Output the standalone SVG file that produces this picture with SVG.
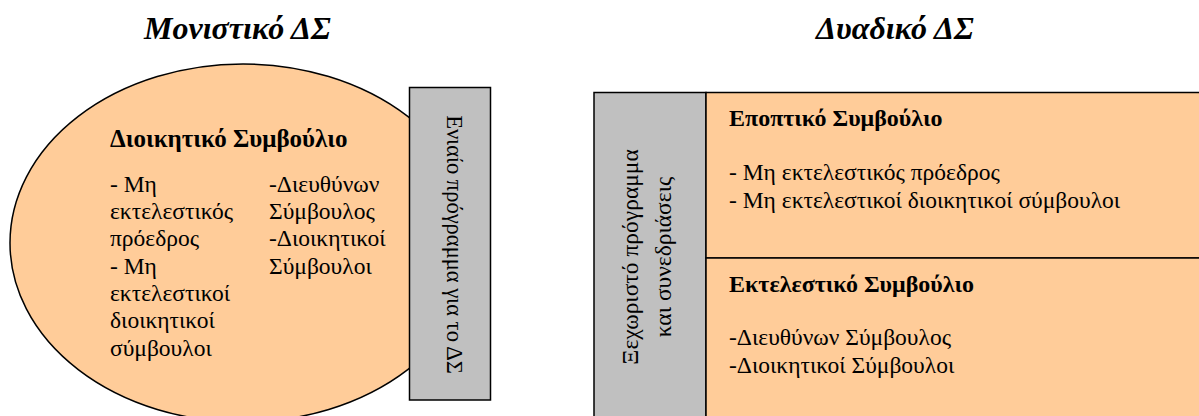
<svg xmlns="http://www.w3.org/2000/svg" width="1199" height="416" viewBox="0 0 1199 416">
<style>
.box{stroke:#000;stroke-width:1.5}
.org{fill:#FFCC99}
.gry{fill:#C0C0C0}
text{font-family:"Liberation Serif","DejaVu Serif",serif;fill:#000}
.title{font-size:32px;font-weight:bold;font-style:italic}
.hd{font-size:24px;font-weight:bold}
.hdl{font-size:25px;font-weight:bold}
.bd{font-size:23.5px}
.vl{font-size:22.5px}
.vr{font-size:23.5px}
</style>
<rect width="1199" height="416" fill="#fff"/>
<g id="titles">
<text class="title" x="144" y="39">Μονιστικό ΔΣ</text>
<text class="title" x="816" y="39">Δυαδικό ΔΣ</text>
</g>
<g id="board-unitary">
<ellipse class="box org" cx="243" cy="243" rx="233" ry="179"/>
<text class="hdl" x="110" y="147">Διοικητικό Συμβούλιο</text>
<text class="bd" x="110" y="192">- Μη</text>
<text class="bd" x="110" y="219">εκτελεστικός</text>
<text class="bd" x="110" y="246">πρόεδρος</text>
<text class="bd" x="110" y="274">- Μη</text>
<text class="bd" x="110" y="301">εκτελεστικοί</text>
<text class="bd" x="110" y="328">διοικητικοί</text>
<text class="bd" x="110" y="356">σύμβουλοι</text>
<text class="bd" x="269" y="192">-Διευθύνων</text>
<text class="bd" x="269" y="219">Σύμβουλος</text>
<text class="bd" x="269" y="246">-Διοικητικοί</text>
<text class="bd" x="269" y="274">Σύμβουλοι</text>
</g>
<g id="program-unitary">
<rect class="box gry" x="409.5" y="87.5" width="81" height="312.5"/>
<text class="vl" text-anchor="middle" transform="translate(447,244.5) rotate(90)">Ενιαίο πρόγραμμα για το ΔΣ</text>
</g>
<g id="program-dual">
<rect class="box gry" x="594" y="92.5" width="112" height="330"/>
<text class="vr" text-anchor="middle" transform="translate(638,257) rotate(-90)">Ξεχωριστό πρόγραμμα</text>
<text class="vr" text-anchor="middle" transform="translate(671,257) rotate(-90)">και συνεδριάσεις</text>
</g>
<g id="supervisory-board">
<rect class="box org" x="706" y="92.5" width="500" height="165.5"/>
<text class="hd" x="729" y="126">Εποπτικό Συμβούλιο</text>
<text class="bd" x="729" y="180">- Μη εκτελεστικός πρόεδρος</text>
<text class="bd" x="729" y="208">- Μη εκτελεστικοί διοικητικοί σύμβουλοι</text>
</g>
<g id="executive-board">
<rect class="box org" x="706" y="258" width="500" height="170"/>
<text class="hd" x="729" y="292">Εκτελεστικό Συμβούλιο</text>
<text class="bd" x="729" y="345">-Διευθύνων Σύμβουλος</text>
<text class="bd" x="729" y="373">-Διοικητικοί Σύμβουλοι</text>
</g>
<g id="connectors"></g>
</svg>
